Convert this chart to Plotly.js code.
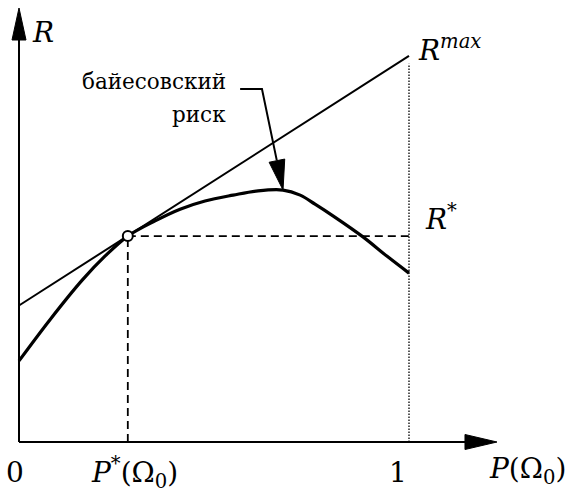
<!DOCTYPE html>
<html>
<head>
<meta charset="utf-8">
<script src="https://cdn.plot.ly/plotly-3.0.1.min.js"></script>
<style>html,body{margin:0;padding:0;background:#fff;}</style>
</head>
<body>
<div id="chart" style="width:570px;height:494px;"></div>
<script>
// ---- data ----
const pGrid      = [0, 1];               // P(Ω0) end points of the R^max line
const rMaxLine   = [0.35, 0.99];         // R^max straight line values
const pBayes     = [0, 0.079, 0.162, 0.221, 0.279, 0.349, 0.413, 0.477, 0.549, 0.613, 0.677, 0.721, 0.759, 0.805, 0.882, 0.944, 1.0];
const rBayes     = [0.208, 0.313, 0.415, 0.477, 0.528, 0.567, 0.597, 0.618, 0.633, 0.644, 0.646, 0.633, 0.610, 0.580, 0.526, 0.476, 0.433];
const pStar      = 0.279;                // P*(Ω0)
const rStar      = 0.528;                // R*
const tickVals   = [0, 1];
const tickLabels = ["0", "1"];

const FONT = "DejaVu Serif";
const black = "#000";

const traces = [
  {x: pGrid, y: rMaxLine, mode: "lines", line: {color: black, width: 2}, hoverinfo: "skip"},
  {x: pBayes, y: rBayes, mode: "lines", line: {color: black, width: 3.2, shape: "spline", smoothing: 1}, hoverinfo: "skip"},
  {x: [pStar, 1], y: [rStar, rStar], mode: "lines", line: {color: black, width: 1.8, dash: "8px,5px"}, hoverinfo: "skip"},
  {x: [pStar, pStar], y: [0, rStar], mode: "lines", line: {color: black, width: 1.8, dash: "8px,5px"}, hoverinfo: "skip"},
  {x: [1, 1], y: [0, rMaxLine[1] - 0.02], mode: "lines", line: {color: black, width: 1.3, dash: "1.5px,1.5px"}, hoverinfo: "skip"},
  {x: [pStar], y: [rStar], mode: "markers", marker: {size: 10, color: "#fff", line: {color: black, width: 2}}, hoverinfo: "skip"}
];

const xTip = 1.2256, yTip = 1.1128;
const peakIdx = 10;
const leadStart = [0.567, 0.905], leadBend = [0.623, 0.905], leadEnd = [0.661, 0.722];

const shapes = [
  {type: "line", x0: 0, y0: 0, x1: xTip - 0.05, y1: 0, line: {color: black, width: 2}},
  {type: "path", xsizemode: "pixel", ysizemode: "pixel", xanchor: xTip, yanchor: 0,
   path: "M0,0 L-32,7.5 L-32,-7.5 Z", fillcolor: black, line: {color: black, width: 1}},
  {type: "line", x0: 0, y0: 0, x1: 0, y1: yTip - 0.05, line: {color: black, width: 2}},
  {type: "path", xsizemode: "pixel", ysizemode: "pixel", xanchor: 0, yanchor: yTip,
   path: "M0,0 L-7,-32 L7,-32 Z", fillcolor: black, line: {color: black, width: 1}},
  {type: "path", path: `M${leadStart[0]},${leadStart[1]} L${leadBend[0]},${leadBend[1]} L${leadEnd[0]},${leadEnd[1]}`,
   line: {color: black, width: 2}},
  {type: "path", xsizemode: "pixel", ysizemode: "pixel", xanchor: pBayes[peakIdx], yanchor: rBayes[peakIdx],
   path: "M0,0 L1.7,31 L-13.9,27.8 Z", fillcolor: black, line: {color: black, width: 1}}
];

function ann(x, y, text, size, xanchor) {
  return {x: x, y: y, xref: "x", yref: "y", text: text, showarrow: false,
    xanchor: xanchor, yanchor: "middle", font: {family: FONT, size: size, color: black}};
}

const annotations = [
  ann(0.028, 1.049, "<i>R</i>", 28, "left"),
  ann(1.018, 1.01, "<i>R</i><sup><i>max</i></sup>", 28, "left"),
  ann(1.036, 0.575, "<i>R</i><sup>*</sup>", 28, "left"),
  ann(tickVals[0] - 0.0103, -0.077, tickLabels[0], 28, "center"),
  ann(tickVals[1] - 0.028, -0.079, tickLabels[1], 28, "center"),
  ann(0.18, -0.077, "<i>P</i><sup>*</sup>(Ω<sub>0</sub>)", 28, "left"),
  ann(1.2, -0.072, "<i>P</i>(Ω<sub>0</sub>)", 28, "left"),
  ann(0.536, 0.925, "байесовский", 21.5, "right"),
  ann(0.536, 0.84, "риск", 21.5, "right")
];

const layout = {
  width: 570, height: 494, autosize: false,
  margin: {l: 0, r: 0, t: 0, b: 0, pad: 0},
  paper_bgcolor: "#fff", plot_bgcolor: "#fff",
  showlegend: false,
  font: {family: FONT},
  xaxis: {range: [-19/390, 551/390], visible: false, fixedrange: true},
  yaxis: {range: [-52/390, 442/390], visible: false, fixedrange: true},
  shapes: shapes,
  annotations: annotations
};

Plotly.newPlot("chart", traces, layout, {displayModeBar: false, staticPlot: true});
</script>
</body>
</html>
